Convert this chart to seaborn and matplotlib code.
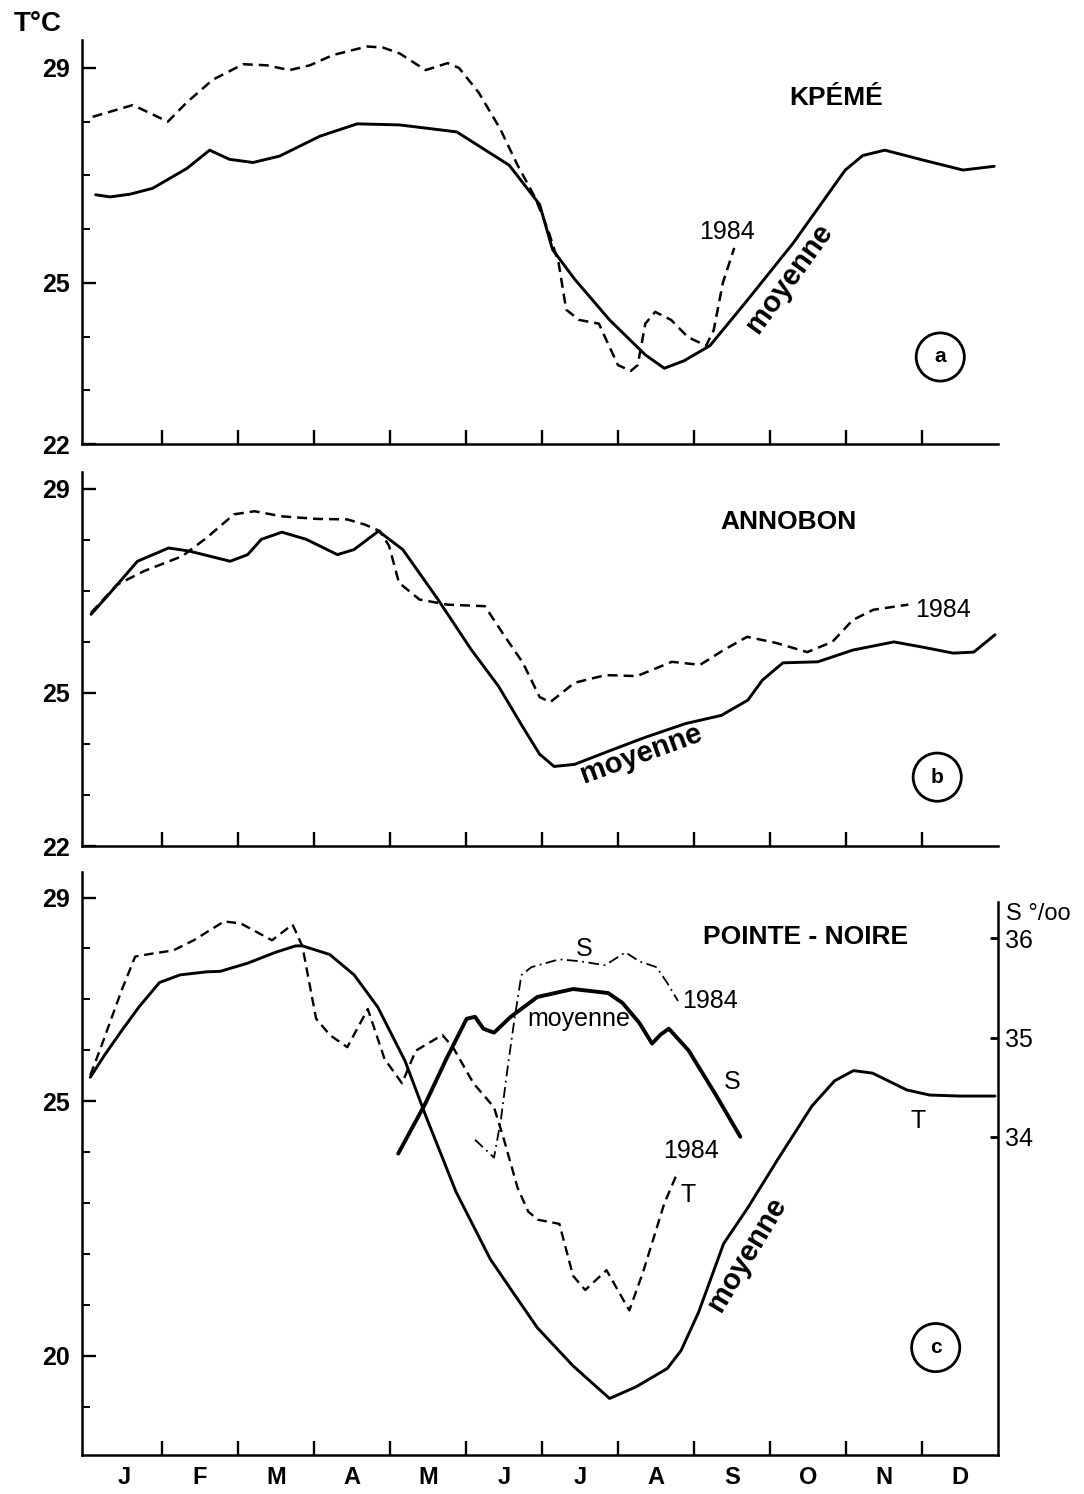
import numpy as np
import matplotlib.pyplot as plt
import seaborn as sns

sns.set_theme(style="ticks")
plt.rcParams['font.family'] = ['Liberation Sans', 'DejaVu Sans']
plt.rcParams['text.color'] = 'black'
plt.rcParams['xtick.color'] = 'black'
plt.rcParams['ytick.color'] = 'black'

# months on the x axis (0 = 1 January, 12 = 31 December)
months = ['J', 'F', 'M', 'A', 'M', 'J', 'J', 'A', 'S', 'O', 'N', 'D']

# (a) Kpeme, temperature (deg C)
kpeme_moy_m = [0.13, 0.32, 0.58, 0.88, 1.33, 1.63, 1.89, 2.2, 2.55, 3.08, 3.57, 4.13, 4.88, 5.57, 5.97,
               6.14, 6.43, 6.89, 7.36, 7.61, 7.87, 8.21, 8.67, 9.3, 9.99, 10.22, 10.51, 11.03, 11.54, 11.95]
kpeme_moy_t = [26.64, 26.6, 26.65, 26.76, 27.13, 27.47, 27.3, 27.24, 27.36, 27.73, 27.96, 27.94, 27.81, 27.19, 26.46,
               25.62, 25.07, 24.31, 23.66, 23.41, 23.55, 23.83, 24.62, 25.73, 27.1, 27.37, 27.47, 27.28, 27.1, 27.17]
kpeme_84_m = [0.09, 0.62, 1.08, 1.33, 1.67, 2.07, 2.38, 2.68, 2.95, 3.25, 3.7, 3.91, 4.13, 4.47, 4.76, 4.91, 5.17,
              5.45, 5.68, 5.91, 6.08, 6.22, 6.32, 6.49, 6.75, 6.83, 7.0, 7.17, 7.26, 7.36, 7.49, 7.7, 7.92, 8.16,
              8.26, 8.38, 8.53]
kpeme_84_t = [28.09, 28.31, 28.0, 28.36, 28.78, 29.07, 29.05, 28.96, 29.05, 29.24, 29.4, 29.38, 29.27, 28.96, 29.09,
              29.0, 28.54, 27.87, 27.19, 26.59, 25.99, 25.37, 24.5, 24.31, 24.24, 23.99, 23.47, 23.36, 23.47, 24.24,
              24.46, 24.31, 23.99, 23.83, 24.12, 25.0, 25.65]

# (b) Annobon
annobon_moy_m = [0.07, 0.32, 0.68, 1.09, 1.36, 1.9, 2.13, 2.31, 2.58, 2.9, 3.31, 3.53, 3.85, 4.17, 4.62, 5.07,
                 5.43, 5.75, 5.97, 6.16, 6.43, 6.88, 7.34, 7.89, 8.36, 8.71, 8.9, 9.17, 9.63, 10.09, 10.63, 11.0,
                 11.41, 11.68, 11.96]
annobon_moy_t = [26.54, 26.96, 27.58, 27.84, 27.78, 27.58, 27.71, 28.01, 28.15, 28.01, 27.71, 27.81, 28.17, 27.81,
                 26.86, 25.85, 25.13, 24.33, 23.8, 23.56, 23.6, 23.86, 24.12, 24.4, 24.56, 24.86, 25.25, 25.59,
                 25.61, 25.84, 26.0, 25.9, 25.78, 25.8, 26.14]
annobon_84_m = [0.07, 0.41, 0.77, 1.27, 1.59, 1.95, 2.22, 2.58, 3.04, 3.44, 3.67, 3.87, 3.99, 4.12, 4.39, 4.76,
                5.25, 5.48, 5.75, 5.97, 6.11, 6.43, 6.84, 7.25, 7.71, 8.08, 8.39, 8.7, 9.08, 9.49, 9.82, 10.09,
                10.36, 10.82]
annobon_84_t = [26.57, 27.12, 27.39, 27.68, 28.04, 28.5, 28.56, 28.46, 28.41, 28.4, 28.3, 28.17, 27.88, 27.16,
                26.83, 26.73, 26.7, 26.18, 25.59, 24.92, 24.82, 25.2, 25.35, 25.33, 25.61, 25.55, 25.84, 26.1,
                25.98, 25.8, 26.0, 26.43, 26.63, 26.73]

# (c) Pointe-Noire, temperature
pn_moy_m = [0.06, 0.25, 0.47, 0.7, 0.97, 1.24, 1.59, 1.77, 2.13, 2.49, 2.76, 2.85, 3.21, 3.53, 3.84, 4.2, 4.47,
            4.87, 5.32, 5.64, 5.94, 6.41, 6.89, 7.24, 7.65, 7.83, 8.06, 8.39, 8.71, 9.1, 9.55, 9.85, 10.1, 10.35,
            10.8, 11.1, 11.5, 11.96]
pn_moy_t = [25.47, 25.91, 26.38, 26.85, 27.33, 27.48, 27.54, 27.55, 27.71, 27.92, 28.05, 28.05, 27.88, 27.48,
            26.85, 25.79, 24.72, 23.22, 21.9, 21.2, 20.55, 19.8, 19.16, 19.39, 19.75, 20.1, 20.85, 22.2, 22.91,
            23.85, 24.9, 25.4, 25.6, 25.55, 25.22, 25.12, 25.1, 25.1]
pn_84_m = [0.06, 0.2, 0.47, 0.65, 0.88, 1.15, 1.42, 1.82, 2.04, 2.45, 2.72, 2.85, 3.03, 3.21, 3.44, 3.71, 3.93,
           4.16, 4.34, 4.69, 4.83, 5.1, 5.37, 5.5, 5.68, 5.82, 5.95, 6.23, 6.41, 6.57, 6.85, 7.15, 7.33, 7.61, 7.79]
pn_84_t = [25.51, 26.06, 27.17, 27.84, 27.9, 27.96, 28.16, 28.53, 28.49, 28.16, 28.47, 28.04, 26.62, 26.3, 26.06,
           26.81, 25.83, 25.35, 25.99, 26.3, 26.06, 25.35, 24.88, 24.25, 23.3, 22.83, 22.67, 22.59, 21.57, 21.29,
           21.68, 20.89, 21.64, 22.99, 23.62]

# (c) Pointe-Noire, salinity (S o/oo)
sal_moy_m = [4.11, 4.47, 4.74, 5.01, 5.12, 5.23, 5.37, 5.59, 5.94, 6.41, 6.87, 7.06, 7.28, 7.45, 7.56, 7.67,
             7.93, 8.29, 8.61]
sal_moy_s = [33.83, 34.34, 34.78, 35.19, 35.21, 35.09, 35.05, 35.21, 35.41, 35.49, 35.45, 35.35, 35.15, 34.94,
             35.03, 35.09, 34.87, 34.42, 34.0]
sal_84_m = [5.12, 5.37, 5.46, 5.55, 5.64, 5.73, 5.86, 5.95, 6.23, 6.5, 6.83, 7.1, 7.28, 7.51, 7.65, 7.79]
sal_84_s = [33.97, 33.79, 34.17, 34.7, 35.19, 35.63, 35.71, 35.73, 35.79, 35.77, 35.73, 35.86, 35.77, 35.71,
            35.55, 35.37]

DASH = (0, (4, 2.4))
DASHDOT = (0, (6, 2.5, 1, 2.5))
LW = 2.1


def draw(ax, x, y, ls='-', lw=LW):
    sns.lineplot(x=x, y=y, ax=ax, color='black', linestyle=ls, lw=lw,
                 sort=False, estimator=None, legend=False)


def style_axis(ax, ylim, labeled, show_months=False):
    ax.set_xlim(-0.05, 12.0)
    ax.set_ylim(*ylim)
    sns.despine(ax=ax)
    for s in ['left', 'bottom']:
        ax.spines[s].set_linewidth(1.8)
        ax.spines[s].set_color('black')
    ax.set_yticks(labeled)
    ax.set_yticklabels([str(v) for v in labeled], fontweight='bold', fontsize=18)
    ax.set_yticks(range(int(np.ceil(ylim[0])), int(ylim[1]) + 1), minor=True)
    ax.tick_params(axis='y', which='major', direction='in', length=10, width=1.7, pad=9)
    ax.tick_params(axis='y', which='minor', direction='in', length=6, width=1.4)
    ax.set_xticks(range(1, 12))
    ax.set_xticklabels([])
    ax.tick_params(axis='x', which='major', direction='in', length=10, width=1.7)
    if show_months:
        ax.set_xticks([i + 0.5 for i in range(12)], minor=True)
        ax.set_xticklabels(months, minor=True, fontweight='bold', fontsize=17)
        ax.tick_params(axis='x', which='minor', length=0, pad=8)
    ax.set_xlabel('')
    ax.set_ylabel('')
    ax.grid(False)


def circled(ax, x, y, letter):
    ax.text(x, y, letter, ha='center', va='center', fontweight='bold', fontsize=15,
            bbox=dict(boxstyle='circle,pad=0.7', fc='white', ec='black', lw=2.0))


fig = plt.figure(figsize=(10.84, 14.94), dpi=100)
ax_a = fig.add_axes([0.0756, 0.7028, 0.8451, 0.2704])
ax_b = fig.add_axes([0.0756, 0.4337, 0.8451, 0.2504])
ax_c = fig.add_axes([0.0756, 0.0261, 0.8451, 0.3902])

# panel a
draw(ax_a, kpeme_moy_m, kpeme_moy_t)
draw(ax_a, kpeme_84_m, kpeme_84_t, ls=DASH, lw=1.8)
style_axis(ax_a, (22, 29.52), [22, 25, 29])
ax_a.text(9.87, 28.45, 'KPÉMÉ', ha='center', va='center', fontweight='bold', fontsize=19)
ax_a.text(8.43, 25.95, '1984', ha='center', va='center', fontsize=18)
ax_a.text(9.25, 25.09, 'moyenne', ha='center', va='center', fontweight='bold', fontsize=21,
          rotation=54, rotation_mode='anchor')
circled(ax_a, 11.24, 23.62, 'a')

# panel b
draw(ax_b, annobon_moy_m, annobon_moy_t)
draw(ax_b, annobon_84_m, annobon_84_t, ls=DASH, lw=1.8)
style_axis(ax_b, (22, 29.33), [22, 25, 29])
ax_b.text(9.24, 28.35, 'ANNOBON', ha='center', va='center', fontweight='bold', fontsize=19)
ax_b.text(11.28, 26.63, '1984', ha='center', va='center', fontsize=18)
ax_b.text(7.3, 23.8, 'moyenne', ha='center', va='center', fontweight='bold', fontsize=21,
          rotation=20, rotation_mode='anchor')
circled(ax_b, 11.2, 23.35, 'b')

# panel c
draw(ax_c, pn_moy_m, pn_moy_t)
draw(ax_c, pn_84_m, pn_84_t, ls=DASH, lw=1.7)
style_axis(ax_c, (18.05, 29.5), [20, 25, 29], show_months=True)

ax_s = ax_c.twinx()
draw(ax_s, sal_moy_m, sal_moy_s, lw=2.8)
draw(ax_s, sal_84_m, sal_84_s, ls=DASHDOT, lw=1.3)
ax_s.set_xlim(-0.05, 12.0)
ax_s.set_ylim(30.79, 36.67)
for s in ['left', 'top', 'bottom']:
    ax_s.spines[s].set_visible(False)
ax_s.spines['right'].set_linewidth(1.8)
ax_s.spines['right'].set_color('black')
ax_s.spines['right'].set_bounds(30.79, 36.37)
ax_s.set_yticks([34, 35, 36])
ax_s.set_yticklabels(['34', '35', '36'], fontsize=18)
ax_s.tick_params(axis='y', direction='in', length=6, width=2.0, pad=5)
ax_s.set_ylabel('')
ax_s.grid(False)

ax_c.text(9.47, 28.22, 'POINTE - NOIRE', ha='center', va='center', fontweight='bold', fontsize=19)
ax_c.text(6.55, 27.99, 'S', ha='center', va='center', fontsize=18)
ax_c.text(7.85, 26.97, '1984', ha='left', va='center', fontsize=18)
ax_c.text(6.49, 26.62, 'moyenne', ha='center', va='center', fontsize=18)
ax_c.text(8.5, 25.38, 'S', ha='center', va='center', fontsize=18)
ax_c.text(10.95, 24.62, 'T', ha='center', va='center', fontsize=18)
ax_c.text(7.96, 24.02, '1984', ha='center', va='center', fontsize=18)
ax_c.text(7.93, 23.15, 'T', ha='center', va='center', fontsize=18)
ax_c.text(8.7, 22.0, 'moyenne', ha='center', va='center', fontweight='bold', fontsize=21,
          rotation=59, rotation_mode='anchor')
circled(ax_c, 11.18, 20.16, 'c')

fig.text(38 / 1084, 1 - 24 / 1494, 'T°C', ha='center', va='center', fontweight='bold', fontsize=20)
fig.text(1006 / 1084, 1 - 914 / 1494, 'S °/oo', ha='left', va='center', fontsize=17)

fig.savefig('out.png', dpi=100)
